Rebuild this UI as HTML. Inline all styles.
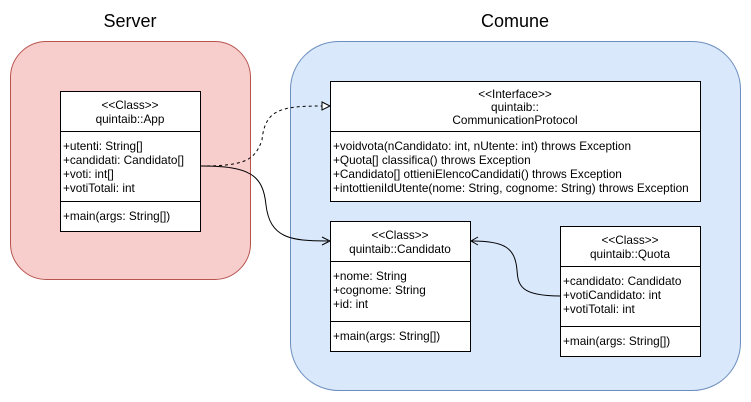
<!DOCTYPE html>
<html><head><meta charset="utf-8"><style>body{margin:0;background:#fff}svg{display:block}text{font-family:"Liberation Sans",Arial,sans-serif;font-size:11.8px;fill:#000}</style></head><body>
<svg width="751" height="402" viewBox="0 0 751 402">
<rect x="10.5" y="41.5" width="240" height="238" rx="36" fill="#f8cecc" stroke="#b85450"/>
<rect x="290.5" y="41.5" width="450" height="349" rx="48" fill="#dae8fc" stroke="#6c8ebf"/>
<text x="130" y="27" text-anchor="middle" style="font-size:18px">Server</text>
<text x="515" y="27" text-anchor="middle" style="font-size:18px">Comune</text>

<g fill="#fff" stroke="#000">
<rect x="60.5" y="91.5" width="140" height="140"/>
<rect x="330.5" y="81.5" width="370" height="120"/>
<rect x="330.5" y="221.5" width="140" height="130"/>
<rect x="560.5" y="226.5" width="140" height="130"/>
</g>
<g stroke="#000">
<line x1="60" y1="131.5" x2="200" y2="131.5"/><line x1="60" y1="201.5" x2="200" y2="201.5"/>
<line x1="330" y1="131.5" x2="700" y2="131.5"/>
<line x1="330" y1="261.5" x2="470" y2="261.5"/><line x1="330" y1="321.5" x2="470" y2="321.5"/>
<line x1="560" y1="266.5" x2="700" y2="266.5"/><line x1="560" y1="326.5" x2="700" y2="326.5"/>
</g>

<g text-anchor="middle">
<text x="130" y="109">&lt;&lt;Class&gt;&gt;</text><text x="130" y="123">quintaib::App</text>
<text x="515" y="98">&lt;&lt;Interface&gt;&gt;</text><text x="515" y="111">quintaib::</text><text x="515" y="124">CommunicationProtocol</text>
<text x="400" y="239">&lt;&lt;Class&gt;&gt;</text><text x="400" y="253">quintaib::Candidato</text>
<text x="630" y="244">&lt;&lt;Class&gt;&gt;</text><text x="630" y="258">quintaib::Quota</text>
</g>
<text x="63" y="150">+utenti: String[]</text>
<text x="63" y="164">+candidati: Candidato[]</text>
<text x="63" y="178">+voti: int[]</text>
<text x="63" y="192">+votiTotali: int</text>
<text x="63" y="220">+main(args: String[])</text>
<text x="333" y="150">+voidvota(nCandidato: int, nUtente: int) throws Exception</text>
<text x="333" y="164">+Quota[] classifica() throws Exception</text>
<text x="333" y="178">+Candidato[] ottieniElencoCandidati() throws Exception</text>
<text x="333" y="192">+intottieniIdUtente(nome: String, cognome: String) throws Exception</text>
<text x="333" y="280">+nome: String</text>
<text x="333" y="294">+cognome: String</text>
<text x="333" y="308">+id: int</text>
<text x="333" y="340">+main(args: String[])</text>
<text x="563" y="285">+candidato: Candidato</text>
<text x="563" y="299">+votiCandidato: int</text>
<text x="563" y="313">+votiTotali: int</text>
<text x="563" y="345">+main(args: String[])</text>

<g fill="none" stroke="#000">
<path d="M201 166 C245 166 255 160 262 140 C265 110 280 106 322 106" stroke-dasharray="3,3"/>
<path d="M322 102 L330 106 L322 110 Z" fill="#fff"/>
<path d="M201 166 C250 166 263 175 266 205 C270 238 290 241 328 241"/>
<path d="M322 237 L330 241 L322 245"/>
<path d="M560 296 C520 296 518 285 517 270 C515 248 505 241 472 241"/>
<path d="M478 237 L471 241 L478 245"/>
</g>
</svg>
</body></html>
